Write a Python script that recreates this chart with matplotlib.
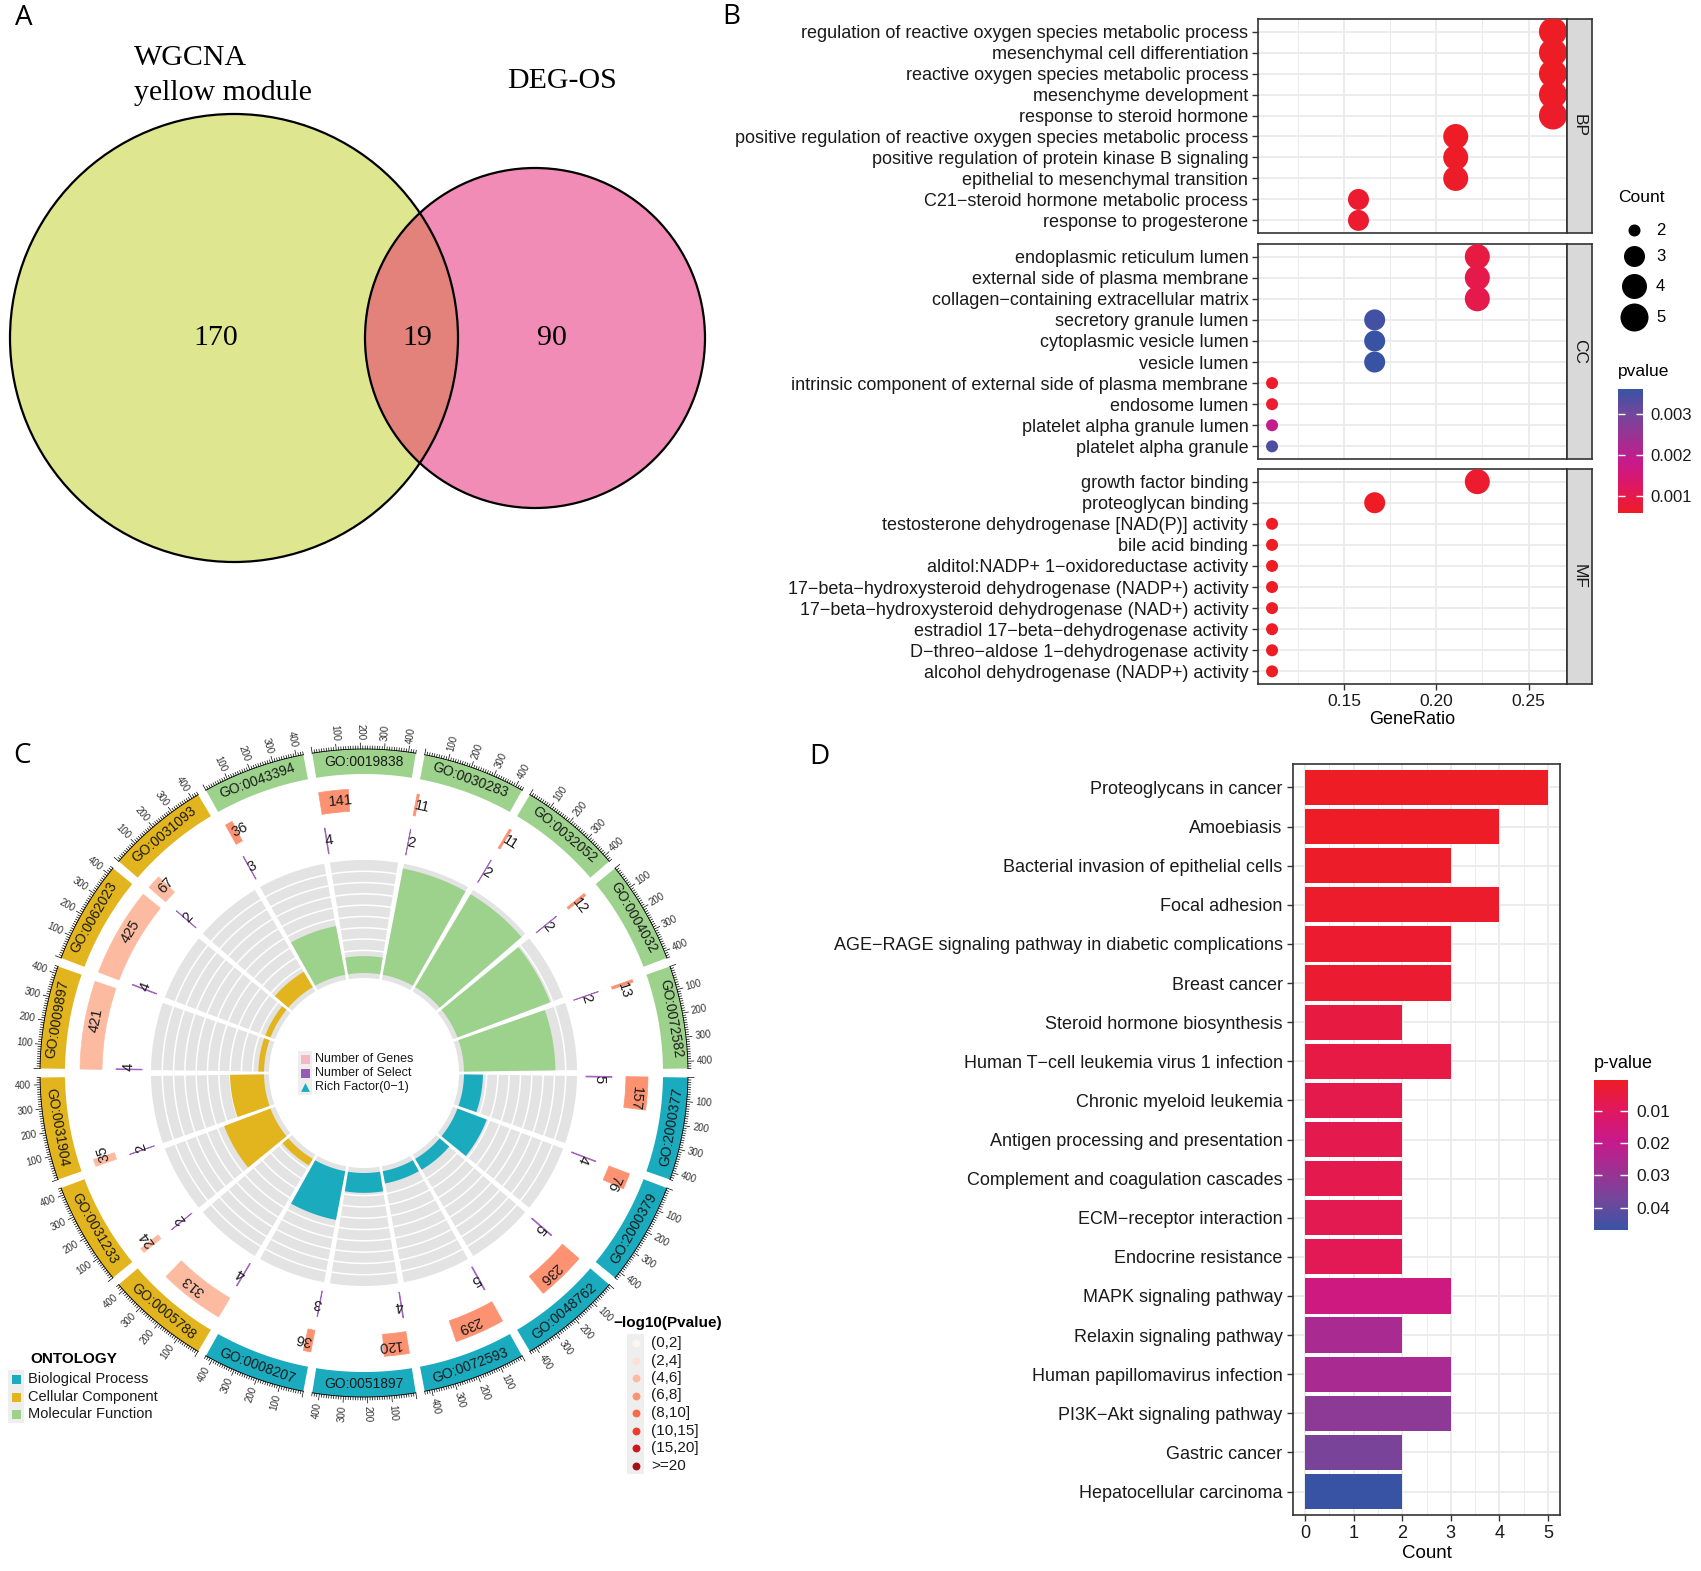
import numpy as np
import matplotlib
matplotlib.use('Agg')
import matplotlib.pyplot as plt
from matplotlib.patches import Polygon, Circle, Rectangle
from matplotlib.colors import LinearSegmentedColormap, Normalize
from matplotlib.cm import ScalarMappable

plt.rcParams['font.family'] = ['Liberation Sans', 'DejaVu Sans']

# ---------------- data ----------------
# A: Venn
venn_only_wgcna = 170
venn_both = 19
venn_only_deg = 90

# B: GO dot plot (GeneRatio as clusterProfiler writes it)
bp_terms = ['regulation of reactive oxygen species metabolic process',
            'mesenchymal cell differentiation',
            'reactive oxygen species metabolic process',
            'mesenchyme development',
            'response to steroid hormone',
            'positive regulation of reactive oxygen species metabolic process',
            'positive regulation of protein kinase B signaling',
            'epithelial to mesenchymal transition',
            'C21\u2212steroid hormone metabolic process',
            'response to progesterone']
bp_ratio = ['5/19', '5/19', '5/19', '5/19', '5/19', '4/19', '4/19', '4/19', '3/19', '3/19']
bp_pvalue = [0.00059, 0.0006, 0.0006, 0.00062, 0.00065, 0.0006, 0.00062, 0.00065, 0.0007, 0.0007]

cc_terms = ['endoplasmic reticulum lumen',
            'external side of plasma membrane',
            'collagen\u2212containing extracellular matrix',
            'secretory granule lumen',
            'cytoplasmic vesicle lumen',
            'vesicle lumen',
            'intrinsic component of external side of plasma membrane',
            'endosome lumen',
            'platelet alpha granule lumen',
            'platelet alpha granule']
cc_ratio = ['4/18', '4/18', '4/18', '3/18', '3/18', '3/18', '2/18', '2/18', '2/18', '2/18']
cc_pvalue = [0.0009, 0.001, 0.001, 0.0035, 0.0036, 0.0036, 0.00065, 0.0007, 0.0019, 0.0034]

mf_terms = ['growth factor binding',
            'proteoglycan binding',
            'testosterone dehydrogenase [NAD(P)] activity',
            'bile acid binding',
            'alditol:NADP+ 1\u2212oxidoreductase activity',
            '17\u2212beta\u2212hydroxysteroid dehydrogenase (NADP+) activity',
            '17\u2212beta\u2212hydroxysteroid dehydrogenase (NAD+) activity',
            'estradiol 17\u2212beta\u2212dehydrogenase activity',
            'D\u2212threo\u2212aldose 1\u2212dehydrogenase activity',
            'alcohol dehydrogenase (NADP+) activity']
mf_ratio = ['4/18', '3/18', '2/18', '2/18', '2/18', '2/18', '2/18', '2/18', '2/18', '2/18']
mf_pvalue = [0.0007, 0.0006, 0.0006, 0.0006, 0.0006, 0.0006, 0.0006, 0.0006, 0.0006, 0.0006]

# C: GO circle plot, clockwise from 3 o'clock
go_ids = ['GO:2000377', 'GO:2000379', 'GO:0048762', 'GO:0072593', 'GO:0051897', 'GO:0008207',
          'GO:0005788', 'GO:0031233', 'GO:0031904', 'GO:0009897', 'GO:0062023', 'GO:0031093',
          'GO:0043394', 'GO:0019838', 'GO:0030283', 'GO:0032052', 'GO:0004032', 'GO:0072582']
go_ont = ['BP'] * 6 + ['CC'] * 6 + ['MF'] * 6
go_genes = [157, 76, 236, 239, 120, 36, 313, 24, 35, 421, 425, 67, 36, 141, 11, 11, 12, 13]
go_select = [5, 4, 5, 5, 4, 3, 4, 2, 2, 4, 4, 2, 3, 4, 2, 2, 2, 2]
go_pbin = [3, 3, 3, 3, 3, 3, 2, 2, 2, 2, 2, 2, 3, 3, 3, 3, 3, 3]
pbin_labels = ['(0,2]', '(2,4]', '(4,6]', '(6,8]', '(8,10]', '(10,15]', '(15,20]', '>=20']

# D: KEGG bar plot
kegg_terms = ['Proteoglycans in cancer', 'Amoebiasis', 'Bacterial invasion of epithelial cells',
              'Focal adhesion', 'AGE\u2212RAGE signaling pathway in diabetic complications',
              'Breast cancer', 'Steroid hormone biosynthesis',
              'Human T\u2212cell leukemia virus 1 infection', 'Chronic myeloid leukemia',
              'Antigen processing and presentation', 'Complement and coagulation cascades',
              'ECM\u2212receptor interaction', 'Endocrine resistance', 'MAPK signaling pathway',
              'Relaxin signaling pathway', 'Human papillomavirus infection',
              'PI3K\u2212Akt signaling pathway', 'Gastric cancer', 'Hepatocellular carcinoma']
kegg_count = [5, 4, 3, 4, 3, 3, 2, 3, 2, 2, 2, 2, 2, 3, 2, 3, 3, 2, 2]
kegg_pvalue = [0.0003, 0.0008, 0.0012, 0.0015, 0.002, 0.0025, 0.005, 0.0055, 0.0068, 0.007,
               0.0072, 0.0075, 0.008, 0.017, 0.026, 0.026, 0.032, 0.036, 0.047]

# ---------------- style ----------------
W, H = 1701, 1571
fig = plt.figure(figsize=(W / 100, H / 100), dpi=100)

def box(x0, y0, x1, y1):
    return [x0 / W, 1 - y1 / H, (x1 - x0) / W, (y1 - y0) / H]

pcmap = LinearSegmentedColormap.from_list(
    'pv', ['#EE1C25', '#E0185E', '#C9198A', '#9E3092', '#72479C', '#3953A4'])
ont_col = {'BP': '#1AABBE', 'CC': '#E2B41E', 'MF': '#9DD28C'}
reds = ['#FFF5F0', '#FEE0D2', '#FCBBA1', '#FC9272', '#FB6A4A', '#EF3B2C', '#CB181D', '#A50F15']
grid_c = '#EBEBEB'
frame_c = '#333333'

ov = fig.add_axes([0, 0, 1, 1])
ov.set_xlim(0, W)
ov.set_ylim(H, 0)
ov.axis('off')

for lab, x, y in [('A', 24, 18), ('B', 731, 17), ('C', 22, 756), ('D', 819, 757)]:
    ov.text(x, y, lab, fontsize=20, family='Open Sans', ha='center', va='center')

# ---------------- A: Venn ----------------
c1 = Circle((234, 338), 224, fc='#DEE68F', ec='none')
c2 = Circle((535, 338), 170, fc='#F08CB6', ec='none')
ov.add_patch(c1)
ov.add_patch(c2)
c3 = Circle((535, 338), 170, fc='#E2827A', ec='none')
ov.add_patch(c3)
c3.set_clip_path(c1)
for c in [c1, c2]:
    ov.add_patch(Circle(c.center, c.radius, fill=False, ec='black', lw=1.6))
serif = 'Liberation Serif'
ov.text(134, 65, 'WGCNA', family=serif, fontsize=21.5, va='baseline')
ov.text(134, 100, 'yellow module', family=serif, fontsize=21.5, va='baseline')
ov.text(507, 88, 'DEG-OS', family=serif, fontsize=21.5, va='baseline')
for v, x in [(venn_only_wgcna, 216), (venn_both, 417), (venn_only_deg, 552)]:
    ov.text(x, 345, str(v), family=serif, fontsize=21.5, va='baseline', ha='center')

# ---------------- B: dot plot ----------------
def ratio(s):
    a, b = s.split('/')
    return int(a) / int(b)

facets = [('BP', bp_terms, bp_ratio, bp_pvalue, 19, 233),
          ('CC', cc_terms, cc_ratio, cc_pvalue, 244, 459),
          ('MF', mf_terms, mf_ratio, mf_pvalue, 469, 684)]
all_r = [ratio(s) for f in facets for s in f[2]]
xr = max(all_r) - min(all_r)
xlimB = (min(all_r) - 0.05 * xr, max(all_r) + 0.05 * xr)
all_p = bp_pvalue + cc_pvalue + mf_pvalue
normB = Normalize(min(all_p), max(all_p))
diam = {2: 12, 3: 21, 4: 25, 5: 28}

for name, terms, ratios, pv, y0, y1 in facets:
    ax = fig.add_axes(box(1258, y0, 1567, y1))
    gr = [ratio(s) for s in ratios]
    cnt = [int(s.split('/')[0]) for s in ratios]
    yy = np.arange(len(terms))
    ax.scatter(gr, yy, s=[(diam[c] * 0.72) ** 2 for c in cnt], c=pv, cmap=pcmap, norm=normB,
               zorder=3, linewidths=0)
    ax.set_xlim(*xlimB)
    ax.set_ylim(len(terms) - 0.4, -0.6)
    ax.set_xticks([0.15, 0.20, 0.25])
    ax.set_xticks([0.125, 0.175, 0.225], minor=True)
    ax.set_yticks(yy)
    ax.set_yticklabels(terms, fontsize=13, color='#1A1A1A')
    ax.grid(True, which='major', color=grid_c, lw=1.3, zorder=0)
    ax.grid(True, which='minor', axis='x', color=grid_c, lw=0.7, zorder=0)
    ax.set_axisbelow(True)
    ax.tick_params(axis='both', which='major', length=4, width=1, color=frame_c, pad=3)
    ax.tick_params(axis='x', which='minor', length=0)
    for sp in ax.spines.values():
        sp.set_color(frame_c)
        sp.set_linewidth(1.2)
    if name != 'MF':
        ax.tick_params(axis='x', labelbottom=False, length=0)
    else:
        ax.set_xticklabels(['0.15', '0.20', '0.25'], fontsize=12.5, color='#1A1A1A')
        ax.set_xlabel('GeneRatio', fontsize=13, labelpad=2)
    st = fig.add_axes(box(1567, y0, 1592, y1))
    st.set_facecolor('#D9D9D9')
    st.set_xticks([])
    st.set_yticks([])
    for sp in st.spines.values():
        sp.set_color(frame_c)
        sp.set_linewidth(1.2)
    st.text(0.5, 0.5, name, rotation=-90, ha='center', va='center', fontsize=12.5,
            transform=st.transAxes, color='#1A1A1A')

# count legend
ov.text(1618, 197, 'Count', fontsize=12.5, va='center')
for c, y in zip([2, 3, 4, 5], [230, 256, 286, 317]):
    ov.scatter([1634], [y], s=(diam[c] * 0.72) ** 2, color='black', linewidths=0)
    ov.text(1656, y, str(c), fontsize=12, va='center')
ov.text(1618, 371, 'pvalue', fontsize=12.5, va='center')
caxB = fig.add_axes(box(1618, 389, 1643, 513))
cbB = fig.colorbar(ScalarMappable(norm=normB, cmap=pcmap), cax=caxB)
cbB.outline.set_visible(False)
cbB.set_ticks([0.001, 0.002, 0.003])
cbB.set_ticklabels(['0.001', '0.002', '0.003'])
caxB.tick_params(length=5, width=1, direction='in', color='white', left=True, right=True,
                 labelsize=12, labelcolor='#1A1A1A', pad=5)

# ---------------- C: GO circle ----------------
CX, CY = 364, 1073
GAP = 1.6
XMAX = 430
SPAN = 20 - GAP
RF_MAX = 0.19

def ang(i, v):
    return -(20 * i + GAP / 2) - v / XMAX * SPAN

def xy(r, th):
    t = np.deg2rad(th)
    return CX + r * np.cos(t), CY - r * np.sin(t)

def band(r0, r1, t0, t1, **kw):
    n = max(int(abs(t1 - t0) * 3) + 2, 3)
    ts = np.linspace(t0, t1, n)
    pts = [xy(r1, t) for t in ts] + [xy(r0, t) for t in ts[::-1]]
    ov.add_patch(Polygon(pts, closed=True, **kw))

def arc(r, t0, t1, **kw):
    ts = np.linspace(t0, t1, 60)
    p = np.array([xy(r, t) for t in ts])
    ov.plot(p[:, 0], p[:, 1], **kw)

for i, gid in enumerate(go_ids):
    col = ont_col[go_ont[i]]
    a0, a1 = ang(i, 0), ang(i, XMAX)
    mid = (a0 + a1) / 2
    # outer ring with id
    band(299, 324, a0, a1, fc=col, ec='none')
    m = mid % 360
    rot = m + 90 if m > 180 else m - 90
    x, y = xy(311.5, mid)
    ov.text(x, y, gid, rotation=rot, ha='center', va='center', rotation_mode='anchor',
            fontsize=10, color='#1A1A1A')
    # axis
    arc(324, a0, a1, color='black', lw=0.6)
    for v in range(0, XMAX + 1, 10):
        t = ang(i, v)
        ln = 6 if v % 100 == 0 else 3
        p0, p1 = xy(324, t), xy(324 + ln, t)
        ov.plot([p0[0], p1[0]], [p0[1], p1[1]], color='black', lw=0.5)
    for v in [100, 200, 300, 400]:
        t = ang(i, v)
        x, y = xy(333, t)
        if np.cos(np.deg2rad(t)) >= 0:
            ov.text(x, y, str(v), rotation=t % 360, ha='left', va='center',
                    rotation_mode='anchor', fontsize=7, color='#333333')
        else:
            ov.text(x, y, str(v), rotation=(t % 360) - 180, ha='right', va='center',
                    rotation_mode='anchor', fontsize=7, color='#333333')
    # number of genes
    gc = reds[go_pbin[i]]
    band(262, 284, a0, ang(i, go_genes[i]), fc=gc, ec=gc, lw=0.5)
    t = ang(i, min(go_genes[i] / 2 + 30, XMAX - 25))
    x, y = xy(273, t)
    ov.text(x, y, str(go_genes[i]), rotation=t - 90, ha='center', va='center',
            rotation_mode='anchor', fontsize=10.5, color='#1A1A1A')
    # number of select
    band(222, 248, a0, ang(i, go_select[i]), fc='#A463BF', ec='#A463BF', lw=0.6)
    t = ang(i, go_select[i] / 2 + 14)
    x, y = xy(235, t)
    ov.text(x, y, str(go_select[i]), rotation=t - 90, ha='center', va='center',
            rotation_mode='anchor', fontsize=10.5, color='#1A1A1A')
    # rich factor: gray track, white rings, then the bar on top
    band(95, 213, a0, a1, fc='#E3E3E3', ec='none', zorder=1)
    for k in range(1, 10):
        arc(100 + k * 11.3, a0, a1, color='white', lw=1.1, zorder=1.1)
    rf = go_select[i] / go_genes[i]
    band(100, 100 + min(rf / RF_MAX, 1) * 113, a0, a1, fc=col, ec='none', zorder=1.2)

# inner legend
ov.add_patch(Rectangle((298, 1051), 14, 44, fc='#EEEEEE', ec='none'))
ov.add_patch(Rectangle((300.5, 1054.5), 9, 9, fc='#F5B7C4', ec='none'))
ov.add_patch(Rectangle((300.5, 1068.5), 9, 9, fc='#9B59B6', ec='none'))
ov.scatter([305], [1087], marker='^', s=40, color=ont_col['BP'], linewidths=0)
for y, s in zip([1059, 1073, 1087], ['Number of Genes', 'Number of Select', 'Rich Factor(0\u22121)']):
    ov.text(315, y, s, fontsize=9, va='center', color='#1A1A1A')

# ontology legend
ov.text(30, 1359, 'ONTOLOGY', fontsize=11, fontweight='bold', va='center')
ov.add_patch(Rectangle((8, 1370), 16, 53, fc='#EEEEEE', ec='none'))
for y, (k, s) in zip([1379, 1397, 1414], [('BP', 'Biological Process'), ('CC', 'Cellular Component'),
                                          ('MF', 'Molecular Function')]):
    ov.add_patch(Rectangle((11.5, y - 4.5), 9, 9, fc=ont_col[k], ec='none'))
    ov.text(28, y, s, fontsize=10.5, va='center', color='#1A1A1A')

# -log10 p legend
ov.text(613, 1323, '\u2212log10(Pvalue)', fontsize=11, fontweight='bold', va='center')
ov.add_patch(Rectangle((627, 1334), 17, 140, fc='#EEEEEE', ec='none'))
for j, s in enumerate(pbin_labels):
    y = 1343 + j * 17.5
    ov.scatter([636], [y], s=32, color=reds[j], linewidths=0)
    ov.text(651, y, s, fontsize=11, va='center', color='#1A1A1A')

# ---------------- D: KEGG bars ----------------
axD = fig.add_axes(box(1293, 764, 1560, 1515))
normD = Normalize(min(kegg_pvalue), max(kegg_pvalue))
yy = np.arange(len(kegg_terms))
axD.barh(yy, kegg_count, height=0.9, color=pcmap(normD(kegg_pvalue)), zorder=3)
axD.set_ylim(len(kegg_terms) - 0.4, -0.6)
axD.set_xlim(-0.25, 5.25)
axD.set_xticks(range(6))
axD.set_xticks(np.arange(0.5, 5, 1), minor=True)
axD.set_yticks(yy)
axD.set_yticklabels(kegg_terms, fontsize=13, color='#1A1A1A')
axD.tick_params(axis='x', labelsize=13, labelcolor='#1A1A1A')
axD.tick_params(which='major', length=4, width=1, color=frame_c)
axD.tick_params(which='minor', length=0)
axD.grid(True, which='major', color=grid_c, lw=1.3, zorder=0)
axD.grid(True, which='minor', axis='x', color=grid_c, lw=0.7, zorder=0)
axD.set_axisbelow(True)
for sp in axD.spines.values():
    sp.set_color(frame_c)
    sp.set_linewidth(1.2)
axD.set_xlabel('Count', fontsize=13.5, labelpad=2)

ov.text(1594, 1063, 'p-value', fontsize=13, va='center')
caxD = fig.add_axes(box(1594, 1080, 1628, 1230))
cbD = fig.colorbar(ScalarMappable(norm=normD, cmap=pcmap), cax=caxD)
cbD.outline.set_visible(False)
cbD.set_ticks([0.01, 0.02, 0.03, 0.04])
cbD.set_ticklabels(['0.01', '0.02', '0.03', '0.04'])
caxD.invert_yaxis()
caxD.tick_params(length=6, width=1, direction='in', color='white', left=True, right=True,
                 labelsize=12.5, labelcolor='#1A1A1A', pad=6)

fig.savefig('out.png', dpi=100)
